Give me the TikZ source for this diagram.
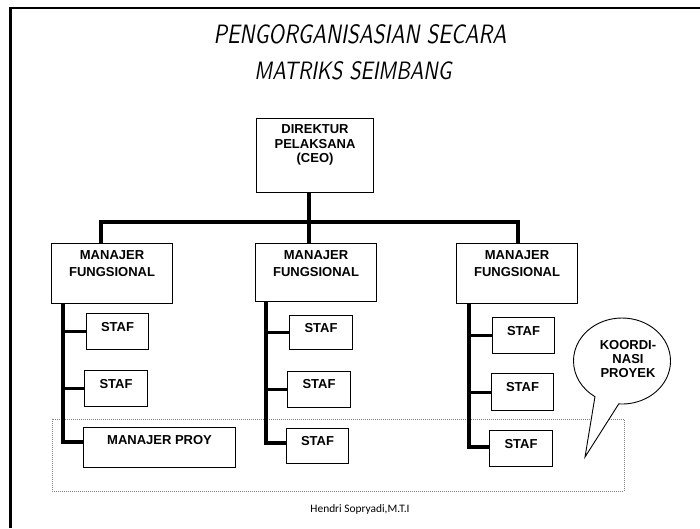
\documentclass[tikz,border=0pt]{standalone}
\usepackage{fontspec}
\setmainfont{Liberation Sans}
\newfontfamily\footfont{Carlito}
\usetikzlibrary{shapes.callouts}

% box with its text set at the top
\newcommand{\orgnode}[7]{%
  \node[orgbox, minimum width=#4pt, minimum height=#5pt] (#1) at (#2,#3)
    {\parbox[c][#5pt][t]{#4pt}{\centering\vspace*{#6pt}#7\par}};}

\tikzset{
  orgbox/.style={draw=black, line width=1.1pt, fill=white, inner sep=0pt,
    anchor=north west, font=\bfseries\fontsize{13}{17}\selectfont},
  bus/.style={line width=3.6pt, line join=miter},
  trunk/.style={line width=3.6pt, line join=miter},
  tick/.style={line width=3pt},
  frameline/.style={line width=2.6pt},
  zone/.style={draw=gray, line width=0.8pt, dash pattern=on 1pt off 1pt},
  bubble/.style={ellipse callout, draw=black, line width=0.9pt, fill=white,
    inner sep=0pt, minimum width=97pt, minimum height=86pt,
    callout pointer arc=30, font=\bfseries\fontsize{13}{14}\selectfont},
  titletext/.style={inner sep=0pt, anchor=center},
}

\begin{document}
\begin{tikzpicture}[x=1pt, y=-1pt]
\useasboundingbox (0,0) rectangle (700,528);

% slide frame (left and top edges)
\draw[frameline] (10.5,528) -- (10.5,8);
\draw[line width=2.2pt] (9.2,8) -- (700,8);

% title
\node[titletext] (title1) at (360,34.5)
  {\resizebox{293pt}{19pt}{\sffamily\itshape PENGORGANISASIAN SECARA}};
\node[titletext] (title2) at (353,70.5)
  {\resizebox{197pt}{18pt}{\sffamily\itshape MATRIKS SEIMBANG}};

% project coordination zone
\draw[zone] (52,419) rectangle (624,491);

% boxes
\orgnode{ceo}{256}{118}{117}{74}{6.3}{\fontsize{13}{14.5}\selectfont DIREKTUR\\PELAKSANA\\(CEO)}
\orgnode{m1}{51}{243}{121}{60}{7.4}{MANAJER\\FUNGSIONAL}
\orgnode{m2}{255}{243}{121}{58}{7.4}{MANAJER\\FUNGSIONAL}
\orgnode{m3}{456}{243}{121}{60}{7.4}{MANAJER\\FUNGSIONAL}

\orgnode{s11}{86}{313}{62}{36}{8.5}{STAF}
\orgnode{s12}{84}{370}{63}{36}{8.5}{STAF}
\orgnode{mp}{83}{427}{152}{40}{7.4}{MANAJER PROY}

\orgnode{s21}{289}{315}{63}{34}{7.5}{STAF}
\orgnode{s22}{287}{371}{63}{36}{8}{STAF}
\orgnode{s23}{286}{428}{62}{35}{8}{STAF}

\orgnode{s31}{492}{317}{62}{36}{8.5}{STAF}
\orgnode{s32}{491}{373}{62}{37}{8.5}{STAF}
\orgnode{s33}{489}{430}{63}{36}{8.5}{STAF}

% bus under the CEO
\coordinate (bl) at (101,222);
\coordinate (bm) at (309,222);
\coordinate (br) at (518,222);
\draw[bus] (m1.north -| bl) -- (bl) -- (br) -- (m3.north -| br);
\draw[bus] (ceo.south -| bm) -- (m2.north -| bm);

% staff trunks
\coordinate (t1) at (63,442);
\coordinate (t2) at (266,443);
\coordinate (t3) at (469,447);
\draw[trunk] (m1.south -| t1) -- (t1) -- (t1 -| mp.west);
\draw[trunk] (m2.south -| t2) -- (t2) -- (t2 -| s23.west);
\draw[trunk] (m3.south -| t3) -- (t3) -- (t3 -| s33.west);

\draw[tick] (t1 |- s11.west) -- (s11.west);
\draw[tick] (t1 |- s12.west) -- (s12.west);
\draw[tick] (t2 |- s21.west) -- (s21.west);
\draw[tick] (t2 |- s22.west) -- (s22.west);
\draw[tick] (t3 |- s31.west) -- (s31.west);
\draw[tick] (t3 |- s32.west) -- (s32.west);

% coordination callout
\node[bubble, callout absolute pointer={(585,457)}] (koord) at (622,361)
  {\makebox[59pt][c]{\hspace*{12pt}\raisebox{4pt}{%
    \begin{tabular}{@{}c@{}}KOORDI-\\NASI\\PROYEK\end{tabular}}}};

% footer
\node[inner sep=0pt] (author) at (360,509)
  {\footfont\fontsize{11.4}{13}\selectfont Hendri Sopryadi,M.T.I};
\end{tikzpicture}
\end{document}
